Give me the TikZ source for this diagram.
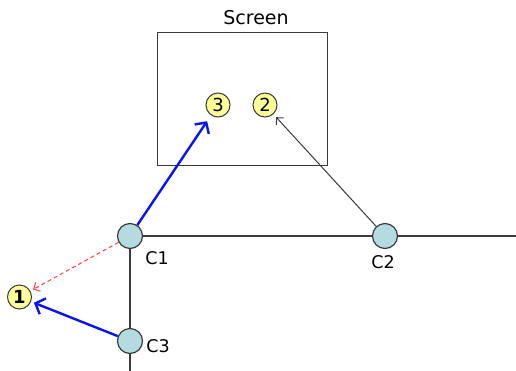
\documentclass[tikz,border=0pt]{standalone}
\usepackage{fontspec}
\setmainfont{DejaVu Sans}
\usetikzlibrary{arrows.meta}
\definecolor{cfill}{HTML}{B4DCE0}
\definecolor{nfill}{HTML}{FFFF99}
\definecolor{lgray}{HTML}{3A3A3A}
\definecolor{bluearr}{HTML}{0A14F0}
\definecolor{redarr}{HTML}{FF4040}
\tikzset{
  cnode/.style={circle, draw=lgray, line width=1.2pt, fill=cfill, minimum size=25pt, inner sep=0pt},
  nnode/.style={circle, draw=lgray, line width=1pt, fill=nfill, minimum size=24pt, inner sep=0pt, font=\fontsize{18}{18}\selectfont},
  lbl/.style={font=\fontsize{17.5}{17.5}\selectfont, inner sep=0pt},
  wire/.style={draw=lgray, line width=2pt},
  bluearrow/.style={draw=bluearr, line width=2.4pt, -{Straight Barb[length=8pt,width=17pt]}},
  grayarrow/.style={draw=lgray, line width=1pt, -{Straight Barb[length=5pt,width=10pt]}},
  redarrow/.style={draw=redarr, line width=1pt, dashed, dash pattern=on 4pt off 3pt, -{Straight Barb[length=5pt,width=10pt]}},
}
\begin{document}
\begin{tikzpicture}[x=1pt,y=-1pt]
\useasboundingbox (0,0) rectangle (516,370);
\node[draw=lgray, line width=1pt, minimum width=170pt, minimum height=133pt, inner sep=0pt] (screen) at (242,98.5) {};
\node[lbl, font=\fontsize{19}{19}\selectfont] (screenlbl) at (256,18) {Screen};
\coordinate (E) at (516,236);
\coordinate (S) at (130,372);
\coordinate (C1c) at (130,236);
\coordinate (C3c) at (130,341);
\draw[wire] (C1c) -- (E);
\draw[wire] (C1c) -- (S);
\node[cnode] (C1) at (C1c) {};
\node[cnode] (C2) at (385,236) {};
\node[cnode] (C3) at (C3c) {};
\node[nnode] (n3) at (218,105) {3};
\node[nnode] (n2) at (265,105) {2};
\node[nnode, font=\fontsize{18}{18}\selectfont\bfseries] (n1) at (19.5,297) {1};
\node[lbl] (l1) at (157,258) {C1};
\node[lbl] (l2) at (383,262) {C2};
\node[lbl] (l3) at (158,346) {C3};
\draw[bluearrow, shorten >=7pt] (C1) -- (n3);
\draw[grayarrow, shorten >=4pt] (C2) -- (n2);
\draw[redarrow, shorten >=3pt] (C1) -- (n1);
\draw[bluearrow, shorten >=3pt] (C3) -- (n1);
\end{tikzpicture}
\end{document}
